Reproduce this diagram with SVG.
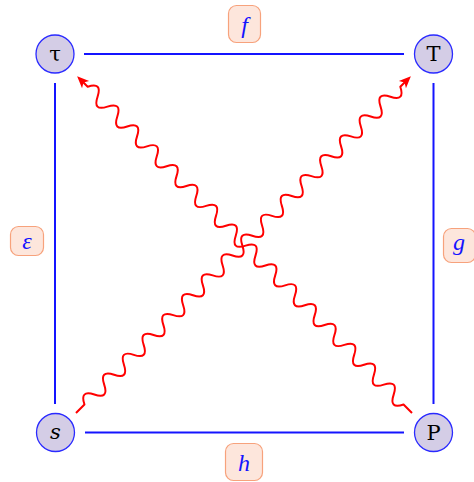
<svg xmlns="http://www.w3.org/2000/svg" width="474" height="482" viewBox="0 0 474 482">
<style>
.edge{stroke:#1414ff;stroke-width:2;fill:none}
.snake{stroke:#ff0000;stroke-width:2;fill:none;stroke-linejoin:round}
.node circle{fill:#d4cde6;stroke:#2a2aff;stroke-width:1.3}
.node text{font-family:"DejaVu Serif","Liberation Serif",serif;font-size:21px;fill:#000;text-anchor:middle}
.lbl rect{fill:#fde6dc;stroke:#f7a27c;stroke-width:1.2}
.lbl text{font-family:"Liberation Serif","DejaVu Serif",serif;font-style:italic;font-size:24px;fill:#1414ff;text-anchor:middle}
</style>
<defs>
<marker id="arr" viewBox="-8 -6 14 12" markerWidth="14" markerHeight="12" refX="0" refY="0" orient="auto" markerUnits="userSpaceOnUse">
<path d="M5,0 L-7,-5 L-4,0 L-7,5 z" fill="#ff0000"/>
</marker>
</defs>
<g id="connectors">
<line class="edge" x1="84" y1="54" x2="404" y2="54"/>
<line class="edge" x1="55" y1="83" x2="55" y2="404"/>
<line class="edge" x1="433.5" y1="83" x2="433.5" y2="404"/>
<line class="edge" x1="85" y1="432.5" x2="404" y2="432.5"/>
<path class="snake" marker-end="url(#arr)" transform="translate(76,413) rotate(-45.17)" d="M0,0 h12 q7,-14 14,0 t14,0 t14,0 t14,0 t14,0 t14,0 t14,0 t14,0 t14,0 t14,0 t14,0 t14,0 t14,0 t14,0 t14,0 t14,0 t14,0 t14,0 t14,0 t14,0 t14,0 t14,0 t14,0 t14,0 t14,0 t14,0 t14,0 t14,0 t14,0 t14,0 t14,0 t14,0 L470,0"/>
<path class="snake" marker-end="url(#arr)" transform="translate(412,413) rotate(-134.83)" d="M0,0 h12 q7,-14 14,0 t14,0 t14,0 t14,0 t14,0 t14,0 t14,0 t14,0 t14,0 t14,0 t14,0 t14,0 t14,0 t14,0 t14,0 t14,0 t14,0 t14,0 t14,0 t14,0 t14,0 t14,0 t14,0 t14,0 t14,0 t14,0 t14,0 t14,0 t14,0 t14,0 t14,0 t14,0 L470,0"/>
</g>
<g id="label-f" class="lbl"><rect x="228.5" y="5.5" width="32" height="37" rx="8"/><text x="244.5" y="33">f</text></g>
<g id="label-eps" class="lbl"><rect x="10.5" y="226.5" width="33" height="29" rx="8"/><text x="27" y="249">ε</text></g>
<g id="label-g" class="lbl"><rect x="443.5" y="228.5" width="32" height="34" rx="8"/><text x="459" y="250">g</text></g>
<g id="label-h" class="lbl"><rect x="225.5" y="443.5" width="37" height="37" rx="8"/><text x="244" y="471">h</text></g>
<g id="node-tau" class="node"><circle cx="55" cy="54" r="19"/><text x="55" y="61">τ</text></g>
<g id="node-T" class="node"><circle cx="433.5" cy="54" r="19"/><text x="433.5" y="61">T</text></g>
<g id="node-s" class="node"><circle cx="55.5" cy="432.5" r="19"/><text x="55.5" y="439" font-style="italic">s</text></g>
<g id="node-P" class="node"><circle cx="433.5" cy="432.5" r="19"/><text x="433.5" y="440">P</text></g>
</svg>
